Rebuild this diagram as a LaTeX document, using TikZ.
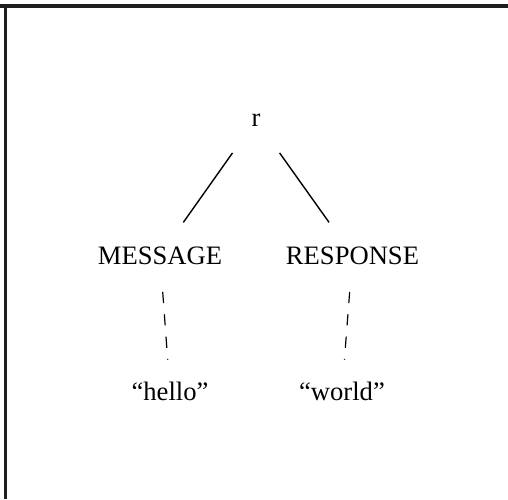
\documentclass[tikz,border=0pt]{standalone}
\usepackage{fontspec}
\setmainfont{Liberation Serif}
\usetikzlibrary{calc}
\tikzset{
  lbl/.style={inner sep=0pt, anchor=base, font=\fontsize{13.3pt}{16pt}\selectfont},
  edge/.style={line width=0.7pt, black},
  dedge/.style={line width=0.6pt, black, dash pattern=on 5.6pt off 5.6pt},
  frame/.style={fill=black!88}
}
\begin{document}
\begin{tikzpicture}[x=0.5pt,y=-0.5pt]
\useasboundingbox (0,0) rectangle (508,499);
\fill[frame] (0,4) rectangle (508,8.3);
\fill[frame] (4,4) rectangle (6.7,499);
\node[lbl] (r) at (256,126) {r};
\node[lbl] (m) at (160,264) {MESSAGE};
\node[lbl] (s) at (352.5,264) {RESPONSE};
\node[lbl] (h) at (170,400) {“hello”};
\node[lbl] (w) at (342,400) {“world”};
\draw[edge] ($(r)!0.245!(m)$) -- ($(r)!0.757!(m)$);
\draw[edge] ($(r)!0.245!(s)$) -- ($(r)!0.757!(s)$);
\draw[dedge] ($(m)!0.27!(h)$) -- ($(m)!0.77!(h)$);
\draw[dedge] ($(s)!0.27!(w)$) -- ($(s)!0.77!(w)$);
\end{tikzpicture}
\end{document}
